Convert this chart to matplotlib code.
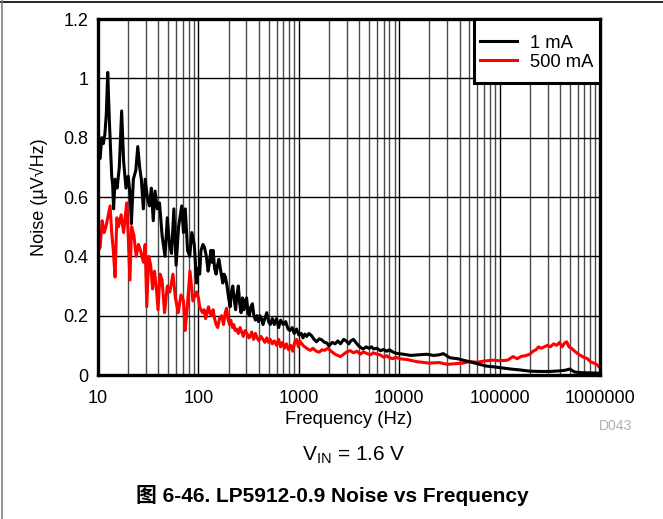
import numpy as np
import matplotlib
matplotlib.use('Agg')
import matplotlib.pyplot as plt
from matplotlib.lines import Line2D
from matplotlib.patches import Rectangle
from matplotlib.ticker import FixedLocator, NullFormatter

plt.rcParams['font.family'] = ['Liberation Sans', 'Noto Sans CJK SC', 'DejaVu Sans']

# 1 mA curve
f_1ma = [10, 10.5, 10.9, 11.3, 11.7, 12.1, 12.5, 13.0, 13.7, 14.0, 14.3, 14.8, 15.5, 16.3, 17.2, 18.0,
         19.0, 20.0, 21.0, 21.5, 22.5, 23.8, 24.9, 26.0, 27.0, 28.3, 29.5, 31, 32.5, 34, 35.5, 37, 39,
         41, 43.5, 46.5, 49, 51.5, 54, 57, 60, 63.5, 68.2, 71, 74, 78, 82, 86, 91, 96,
         100, 103, 106, 111, 115, 120, 125, 129, 133, 137, 140, 145, 150, 155, 160, 167, 175, 180, 186,
         193, 200, 207, 213, 220, 228, 235, 242, 250, 258, 266, 275, 284, 293, 302, 312, 322, 333, 345,
         357, 370, 383, 397, 410, 425, 440, 458, 480, 500, 520, 545, 570, 600, 630, 660, 700, 740, 780,
         820, 860, 900, 950, 1000,
         1060, 1100, 1150, 1200, 1260, 1344, 1420, 1500, 1600, 1700, 1800, 1900, 2000, 2150, 2300, 2450,
         2600, 2800, 2960, 3150, 3300, 3500, 3700, 3900, 4150, 4380, 4700, 5000, 5300, 5530, 6000, 6500,
         7000, 7500, 8000, 8500, 9000, 9400, 11000, 13000, 15500, 18800, 22000, 25000, 27500,
         32000, 38000, 43300, 50000, 60000, 74000, 85000, 100000, 130000, 160000, 200000, 250000, 320000,
         400000, 450000, 500000, 560000, 650000, 800000, 1000000]
n_1ma = [0.74, 0.73, 0.80, 0.78, 0.81, 0.88, 1.02, 0.85, 0.67, 0.64, 0.56, 0.66, 0.63, 0.70, 0.89, 0.72,
         0.63, 0.67, 0.60, 0.51, 0.66, 0.69, 0.77, 0.70, 0.66, 0.56, 0.66, 0.60, 0.57, 0.63, 0.52, 0.62, 0.56,
         0.58, 0.47, 0.40, 0.53, 0.44, 0.41, 0.56, 0.37, 0.50, 0.57, 0.48, 0.56, 0.42, 0.40, 0.48, 0.44, 0.31,
         0.36, 0.34, 0.42, 0.44, 0.43, 0.40, 0.35, 0.38, 0.42, 0.38, 0.42, 0.36, 0.34, 0.37, 0.39, 0.35,
         0.31, 0.34, 0.33, 0.30, 0.26, 0.23, 0.28, 0.30, 0.25, 0.22, 0.27, 0.30, 0.24, 0.21, 0.26, 0.22,
         0.25, 0.26, 0.21, 0.20, 0.23, 0.24, 0.20, 0.185, 0.20, 0.18, 0.20, 0.19, 0.17, 0.19, 0.21, 0.18,
         0.17, 0.19, 0.17, 0.19, 0.16, 0.185, 0.17, 0.18, 0.155, 0.15, 0.16, 0.14, 0.155, 0.135,
         0.14, 0.125, 0.138, 0.13, 0.14, 0.132, 0.12, 0.112, 0.122, 0.118, 0.11, 0.108, 0.098, 0.11,
         0.105, 0.115, 0.105, 0.12, 0.115, 0.105, 0.115, 0.12, 0.11, 0.10, 0.092, 0.088, 0.095, 0.09,
         0.095, 0.088, 0.09, 0.082, 0.086, 0.08, 0.085, 0.079, 0.075, 0.073, 0.07, 0.066, 0.068, 0.07,
         0.066, 0.068, 0.072, 0.058, 0.055, 0.05, 0.045, 0.038, 0.03, 0.028, 0.025, 0.02, 0.017, 0.013,
         0.012, 0.012, 0.014, 0.016, 0.02, 0.01, 0.008, 0.007, 0.006]

# 500 mA curve
f_500ma = [10, 10.5, 11, 11.5, 12, 12.5, 13.2, 13.7, 14.2, 14.8, 15.4, 16, 17, 18, 19.3, 20, 20.8, 21.6,
           22.8, 24, 25.3, 26.5, 28.3, 29.5, 30.6, 32, 33.5, 35, 36.5, 38, 39.6, 41.5, 43.5, 46, 49, 52,
           55.8, 59, 63, 67, 71, 73.6, 76.2, 82.5, 88, 96,
           100, 103, 106, 110, 114, 118, 122, 126, 130, 135, 140, 145, 150, 156, 162, 170, 178, 185, 191,
           197, 204, 210, 218, 225, 232, 240, 250, 260, 270, 280, 292, 305, 318, 328, 340, 355, 370, 385,
           400, 420, 440, 460, 480, 500, 520, 545, 570, 600, 630, 660, 690, 720, 755, 790, 830, 870, 910,
           950, 990, 1025,
           1100, 1200, 1300, 1380, 1500, 1600, 1700, 1800, 1950, 2100, 2300, 2600, 2800, 3000, 3250, 3500,
           3800, 4100, 4400, 4800, 5200, 5500, 6000, 6450, 7000, 7500, 8000, 8650, 9300, 10000,
           12000, 15000, 20000, 25000, 30000, 36000, 43000, 50000, 60000, 70000, 85000, 100000, 120000,
           136000, 150000, 165000, 180000, 200000, 215000, 230000, 245000, 260000, 280000, 300000, 320000,
           345000, 370000, 395000, 420000, 445000, 466000, 490000, 520000, 560000, 610000, 686000, 750000,
           800000, 870000, 930000, 1000000]
n_500ma = [0.42, 0.43, 0.52, 0.48, 0.50, 0.53, 0.57, 0.48, 0.42, 0.33, 0.53, 0.50, 0.54, 0.48, 0.58, 0.47,
           0.32, 0.50, 0.47, 0.40, 0.44, 0.42, 0.38, 0.44, 0.23, 0.40, 0.37, 0.29, 0.35, 0.30, 0.22, 0.34,
           0.32, 0.21, 0.30, 0.28, 0.34, 0.26, 0.21, 0.27, 0.25, 0.15, 0.20, 0.35, 0.25, 0.28,
           0.26, 0.23, 0.22, 0.21, 0.22, 0.19, 0.21, 0.23, 0.21, 0.20, 0.22, 0.19, 0.17, 0.16, 0.19, 0.20,
           0.17, 0.21, 0.225, 0.19, 0.17, 0.185, 0.16, 0.17, 0.15, 0.155, 0.14, 0.16, 0.145, 0.13, 0.15,
           0.14, 0.125, 0.13, 0.145, 0.12, 0.14, 0.125, 0.115, 0.13, 0.12, 0.11, 0.125, 0.11, 0.12, 0.105,
           0.115, 0.10, 0.12, 0.095, 0.11, 0.09, 0.105, 0.085, 0.10, 0.08, 0.11, 0.12, 0.095, 0.115,
           0.10, 0.09, 0.083, 0.09, 0.08, 0.077, 0.085, 0.083, 0.09, 0.08, 0.07, 0.062, 0.07, 0.078, 0.082,
           0.075, 0.08, 0.07, 0.078, 0.072, 0.068, 0.075, 0.07, 0.068, 0.06, 0.065, 0.058, 0.055, 0.06,
           0.055, 0.052, 0.045, 0.04, 0.042, 0.036, 0.038, 0.04, 0.045, 0.043, 0.047, 0.05, 0.048, 0.05,
           0.062, 0.055, 0.063, 0.065, 0.07, 0.08, 0.085, 0.095, 0.09, 0.095, 0.10, 0.095, 0.105, 0.10,
           0.11, 0.095, 0.108, 0.112, 0.095, 0.09, 0.08, 0.07, 0.06, 0.055, 0.045, 0.04, 0.035, 0.025]

x_ticks = [10, 100, 1000, 10000, 100000, 1000000]
x_ticklabels = ['10', '100', '1000', '10000', '100000', '1000000']
y_ticks = [0, 0.2, 0.4, 0.6, 0.8, 1.0, 1.2]
y_ticklabels = ['0', '0.2', '0.4', '0.6', '0.8', '1', '1.2']

fig = plt.figure(figsize=(6.63, 5.19), dpi=100)
ax = fig.add_axes([98 / 663, 1 - 375 / 519, 502 / 663, 356 / 519])

ax.plot(f_1ma, n_1ma, color='black', lw=2.2, label='1 mA', zorder=3)
ax.plot(f_500ma, n_500ma, color='#ff0000', lw=2.2, label='500 mA', zorder=2)

ax.set_xscale('log')
ax.set_xlim(10, 1e6)
ax.set_ylim(0, 1.2)
ax.xaxis.set_major_locator(FixedLocator(x_ticks))
ax.set_xticklabels(x_ticklabels)
minor = [m * 10 ** e for e in range(1, 6) for m in range(2, 10)]
ax.xaxis.set_minor_locator(FixedLocator(minor))
ax.xaxis.set_minor_formatter(NullFormatter())
ax.set_yticks(y_ticks)
ax.set_yticklabels(y_ticklabels)
ax.tick_params(which='both', length=0, labelsize=13)
ax.tick_params(axis='x', pad=11)
ax.tick_params(axis='y', pad=7)

ax.grid(which='major', color='black', lw=1.0)
ax.grid(which='minor', axis='x', color='#4a4a4a', lw=1.0)
ax.set_axisbelow(True)
for s in ax.spines.values():
    s.set_linewidth(2.4)

ax.set_xlabel('Frequency (Hz)', fontsize=13.3, labelpad=2.5)
ax.set_ylabel('Noise (µV√Hz)', fontsize=13, labelpad=11)

# legend box: frame drawn separately so it can be taller than the entries
ax.add_patch(Rectangle((0.749, 0.82), 0.251, 0.18, transform=ax.transAxes, facecolor='white',
                       edgecolor='black', lw=2.2, zorder=4, clip_on=False))
leg = ax.legend(loc='center', bbox_to_anchor=(0.874, 0.905), fontsize=13.2, frameon=False,
                handlelength=2.0, handletextpad=0.7, labelspacing=0.1)
leg.set_zorder(5)

fig.text(615 / 663, 1 - 426 / 519, 'D043', color='#b0b0b0', fontsize=10, ha='center', va='center')
fig.text(354 / 663, 1 - 455 / 519, r'V$_{\mathregular{IN}}$ = 1.6 V', fontsize=15, ha='center', va='center')
fig.text(332 / 663, 1 - 495 / 519, '图 6-46. LP5912-0.9 Noise vs Frequency', fontsize=15,
         fontweight='bold', ha='center', va='center')

# page frame lines
fig.add_artist(Line2D([0, 1], [1 - 1.5 / 519, 1 - 1.5 / 519], color='black', lw=1.2))
fig.add_artist(Line2D([1.5 / 663, 1.5 / 663], [0, 1], color='#808080', lw=1.2))

fig.savefig('out.png', dpi=100)
